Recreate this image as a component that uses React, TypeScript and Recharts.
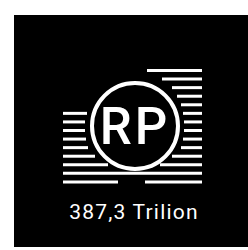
import React from "react";
import { ComposedChart, Bar, XAxis, YAxis, ReferenceDot } from "recharts";

// stripe rows, top to bottom
const rows = ["s1", "s2", "s3", "s4", "s5", "s6", "s7", "s8", "s9", "s10", "s11", "s12", "s13", "s14"];
const rightStart = [147, 162, 172, 177, 181, 183, 184, 184, 183, 181, 172, 160, 135, 145];
const rightEnd = [202, 202, 202, 202, 202, 202, 202, 202, 202, 202, 202, 202, 202, 202];
const leftStart = [null, null, null, null, null, 63, 63, 63, 63, 63, 63, 63, 63, 63];
const leftEnd = [null, null, null, null, null, 87, 85, 85, 86, 88, 95, 108, 135, 118];

const badge = { x: 135, y: 126, r: 43, text: "RP" };
const caption = "387,3 Trilion";

const data = rows.map((row, i) => ({
  row,
  right: [rightStart[i], rightEnd[i]],
  left: leftStart[i] == null ? null : [leftStart[i], leftEnd[i]],
}));

const layer: React.CSSProperties = { position: "absolute", left: 0, top: 0 };

export default function App() {
  return (
    <div
      style={{
        position: "absolute",
        left: 0,
        top: 0,
        width: 248,
        height: 250,
        background: "#fff",
        overflow: "hidden",
      }}
    >
      <div
        style={{
          position: "absolute",
          left: 14,
          top: 15,
          width: 234,
          height: 232,
          background: "#000",
        }}
      />
      <div style={layer}>
        <ComposedChart
          width={248}
          height={250}
          data={data}
          layout="vertical"
          barGap={-3}
          margin={{ top: 66, right: 0, bottom: 64, left: 0 }}
        >
          <XAxis type="number" domain={[0, 248]} allowDataOverflow hide />
          <YAxis type="category" dataKey="row" hide />
          <Bar dataKey="right" fill="#fff" barSize={3} isAnimationActive={false} />
          <Bar dataKey="left" fill="#fff" barSize={3} isAnimationActive={false} />
        </ComposedChart>
      </div>
      <div style={layer}>
        <ComposedChart
          width={248}
          height={250}
          data={[badge]}
          margin={{ top: 0, right: 0, bottom: 0, left: 0 }}
        >
          <XAxis type="number" dataKey="x" domain={[0, 248]} allowDataOverflow hide />
          <YAxis type="number" dataKey="y" domain={[0, 250]} allowDataOverflow reversed hide />
          <ReferenceDot
            x={badge.x}
            y={badge.y}
            r={badge.r}
            ifOverflow="visible"
            fill="none"
            stroke="#fff"
            strokeWidth={4}
            label={{
              value: badge.text,
              position: "center",
              fill: "#fff",
              fontSize: 51,
              fontWeight: 500,
              fontFamily: "Roboto",
              letterSpacing: 3,
            }}
          />
        </ComposedChart>
      </div>
      <div
        style={{
          position: "absolute",
          left: 0,
          top: 202,
          width: 268,
          textAlign: "center",
          color: "#fff",
          fontFamily: "Roboto",
          fontSize: 21,
          lineHeight: "21px",
          letterSpacing: 1.2,
        }}
      >
        {caption}
      </div>
    </div>
  );
}
